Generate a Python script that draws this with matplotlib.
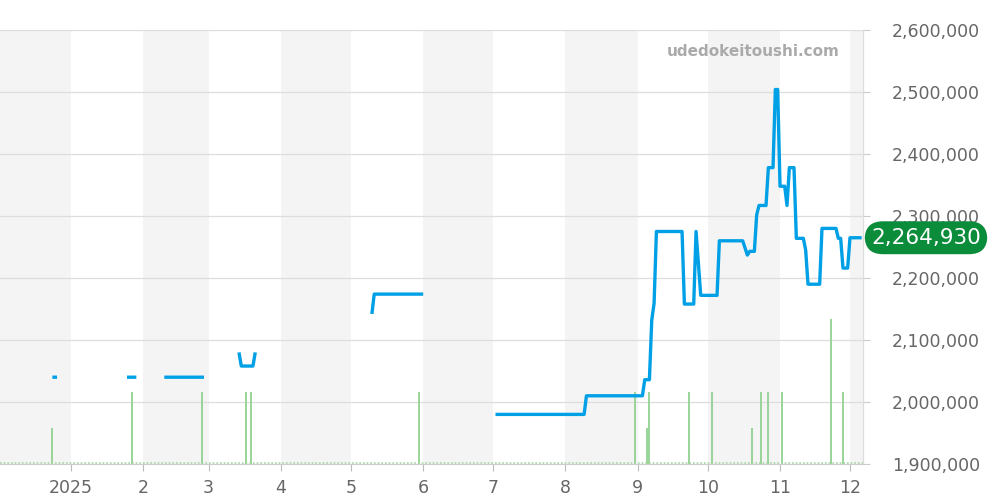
import matplotlib
matplotlib.use("Agg")
import matplotlib.pyplot as plt
import matplotlib.dates as mdates
import matplotlib.transforms as mtransforms
from matplotlib.ticker import FuncFormatter, FixedLocator
import numpy as np
import pandas as pd

# ---------------- data ----------------
price_dates = [
    "2024-12-24", "2024-12-26", None,
    "2025-01-25", "2025-01-29", None,
    "2025-02-10", "2025-02-27", None,
    "2025-03-14", "2025-03-15", "2025-03-20", "2025-03-21", None,
    "2025-05-10", "2025-05-11", "2025-06-01", None,
    "2025-07-02", "2025-08-09", "2025-08-10", "2025-09-03", "2025-09-04",
    "2025-09-06", "2025-09-07", "2025-09-08", "2025-09-09", "2025-09-20",
    "2025-09-21", "2025-09-25", "2025-09-26", "2025-09-28", "2025-10-05",
    "2025-10-06", "2025-10-16", "2025-10-18", "2025-10-19", "2025-10-21",
    "2025-10-22", "2025-10-23", "2025-10-26", "2025-10-27", "2025-10-29",
    "2025-10-30", "2025-10-31", "2025-11-01", "2025-11-03", "2025-11-04",
    "2025-11-05", "2025-11-07", "2025-11-08", "2025-11-11", "2025-11-12",
    "2025-11-13", "2025-11-18", "2025-11-19", "2025-11-25", "2025-11-26",
    "2025-11-27", "2025-11-28", "2025-11-30", "2025-12-01", "2025-12-06",
]
price_values = [
    2040000, 2040000, None,
    2040000, 2040000, None,
    2040000, 2040000, None,
    2080000, 2058000, 2058000, 2080000, None,
    2142000, 2174000, 2174000, None,
    1980000, 1980000, 2010000, 2010000, 2036000,
    2036000, 2132000, 2159000, 2275000, 2275000,
    2158000, 2158000, 2275000, 2172000, 2172000,
    2260000, 2260000, 2237000, 2243000, 2243000,
    2302000, 2317000, 2317000, 2378000, 2378000,
    2504000, 2504000, 2348000, 2348000, 2317000,
    2378000, 2378000, 2264000, 2264000, 2245000,
    2190000, 2190000, 2280000, 2280000, 2264000,
    2264000, 2216000, 2216000, 2264930, 2264930,
]

volume_dates = [
    "2024-12-24", "2025-01-27", "2025-02-26", "2025-03-17", "2025-03-19",
    "2025-05-30", "2025-08-31", "2025-09-05", "2025-09-06", "2025-09-23",
    "2025-10-03", "2025-10-20", "2025-10-24", "2025-10-27", "2025-11-02",
    "2025-11-23", "2025-11-28",
]
volume_counts = [1, 2, 2, 2, 2, 2, 2, 1, 2, 2, 2, 1, 2, 2, 2, 4, 2]

y_ticks = [1900000, 2000000, 2100000, 2200000, 2300000, 2400000, 2500000, 2600000]
month_ticks = ["2025-01-01", "2025-02-01", "2025-03-01", "2025-04-01", "2025-05-01",
               "2025-06-01", "2025-07-01", "2025-08-01", "2025-09-01", "2025-10-01",
               "2025-11-01", "2025-12-01"]
month_labels = ["2025", "2", "3", "4", "5", "6", "7", "8", "9", "10", "11", "12"]
last_price = 2264930
watermark = "udedokeitoushi.com"

# ---------------- figure ----------------
fig = plt.figure(figsize=(10, 5), dpi=100)
ax = fig.add_axes([0.0, 0.072, 0.863, 0.868])
axv = ax.twinx()

x_left = mdates.date2num(pd.Timestamp("2024-12-01 13:00"))
x_right = mdates.date2num(pd.Timestamp("2025-12-06 14:00"))
tick_nums = [mdates.date2num(pd.Timestamp(d)) for d in month_ticks]

ax.set_xlim(x_left, x_right)
axv.set_xlim(x_left, x_right)
ax.set_ylim(1900000, 2600000)
axv.set_ylim(0, 12.0)

# layering: background axis (bands, grid, volume) below price axis
ax.set_zorder(2)
axv.set_zorder(1)
ax.patch.set_visible(False)
axv.patch.set_visible(False)

# alternating month bands
band_edges = [x_left] + tick_nums + [x_right]
for i in range(len(band_edges) - 1):
    if i % 2 == 0:
        axv.axvspan(band_edges[i], band_edges[i + 1], color="#f4f4f4", zorder=0, lw=0)

# horizontal grid in price coordinates, drawn on the background axis
grid_tr = mtransforms.blended_transform_factory(axv.transAxes, ax.transData)
for yv in y_ticks:
    axv.plot([0, 1], [yv, yv], transform=grid_tr, color="#dddddd", lw=0.9, zorder=0.5)

# volume bars
vol_x = [mdates.date2num(pd.Timestamp(d)) for d in volume_dates]
axv.vlines(vol_x, 0, volume_counts, color="#98d498", lw=1.4, zorder=2)
axv.axhline(0.04, color="#a8d8a8", lw=1.2, ls=(0, (1, 1.2)), zorder=2)
axv.set_yticks([])
for s in axv.spines.values():
    s.set_visible(False)

# price line
px = [mdates.date2num(pd.Timestamp(d)) if d is not None else np.nan for d in price_dates]
py = [np.nan if v is None else v for v in price_values]
ax.plot(px, py, color="#00a0e6", lw=2.4, zorder=3, solid_capstyle="butt")

# axes formatting
ax.yaxis.tick_right()
ax.set_yticks(y_ticks)
ax.yaxis.set_major_formatter(FuncFormatter(lambda v, p: f"{int(v):,}"))
ax.tick_params(axis="y", length=5, width=0.8, color="#cccccc", pad=16,
               labelsize=12.5, labelcolor="#666666")
ax.xaxis.set_major_locator(FixedLocator(tick_nums))
ax.set_xticklabels(month_labels)
ax.tick_params(axis="x", length=5, width=0.8, color="#bbbbbb", pad=6,
               labelsize=12.5, labelcolor="#666666")
for name in ["left", "top"]:
    ax.spines[name].set_visible(False)
ax.spines["right"].set_color("#dddddd")
ax.spines["right"].set_linewidth(0.9)
ax.spines["bottom"].set_color("#cccccc")
ax.spines["bottom"].set_linewidth(0.8)

# watermark
ax.text(0.973, 0.95, watermark, transform=ax.transAxes, ha="right", va="center",
        fontsize=11, fontweight="bold", color="#aaaaaa", zorder=4)

# last price label
trans = mtransforms.blended_transform_factory(fig.transFigure, ax.transData)
fig.text(0.926, last_price, f"{last_price:,}", transform=trans, ha="center", va="center",
         fontsize=15.5, color="white", zorder=10,
         bbox=dict(boxstyle="round,pad=0.3,rounding_size=0.85", fc="#0a8c3a", ec="none"))

fig.savefig("out.png", dpi=100)
